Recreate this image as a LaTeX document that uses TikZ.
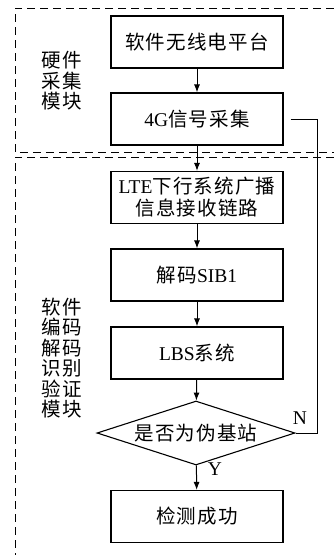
\documentclass[tikz,border=0pt]{standalone}
\usepackage{fontspec}
\setmainfont{Liberation Serif}
\newfontfamily\cjk[LetterSpace=6]{Noto Sans CJK SC}
\usetikzlibrary{arrows.meta,shapes.geometric}
\begin{document}
\begin{tikzpicture}[x=1pt,y=-1pt,
  box/.style={draw,line width=1.1pt,minimum width=172pt,minimum height=52pt,inner sep=0pt,align=center,font=\fontsize{19.5}{22}\selectfont},
  arr/.style={-{Latex[length=8pt,width=6pt]},line width=1pt},
  frame/.style={dash pattern=on 8pt off 5pt,line width=1pt},
  lbl/.style={align=center,font=\fontsize{19.5}{20.5}\selectfont},
  tag/.style={font=\fontsize{19.5}{20}\selectfont,inner sep=0pt}]
\useasboundingbox (0,0) rectangle (334,555);
% dashed module frames
\coordinate (f1a) at (334,8);
\coordinate (f1b) at (15,8);
\coordinate (f1c) at (15,152);
\coordinate (f1d) at (334,152);
\coordinate (f2a) at (334,157);
\coordinate (f2b) at (15,157);
\coordinate (f2c) at (15,555);
\draw[frame] (f1a) -- (f1b) -- (f1c) -- (f1d);
\draw[frame] (f2a) -- (f2b) -- (f2c);
% module labels
\node[lbl] (l1) at (62,81) {\cjk 硬件\\\cjk 采集\\\cjk 模块};
\node[lbl] (l2) at (62,358) {\cjk 软件\\\cjk 编码\\\cjk 解码\\\cjk 识别\\\cjk 验证\\\cjk 模块};
% boxes
\node[box] (a) at (197,42) {\cjk 软件无线电平台};
\node[box] (b) at (197,119) {4G{\cjk 信号采集}};
\node[box] (c) at (197,197.5) {LTE{\cjk 下行系统广播}\\{\cjk 信息接收链路}};
\node[box] (d) at (197,275) {{\cjk 解码}SIB1};
\node[box] (e) at (197,353) {LBS{\cjk 系统}};
\node[draw,line width=1.1pt,shape=diamond,aspect=3.1,minimum width=198pt,minimum height=64pt,inner sep=0pt,font=\fontsize{19.5}{22}\selectfont] (q) at (196,433) {\cjk 是否为伪基站};
\node[box] (g) at (197,516.5) {\cjk 检测成功};
% connectors
\draw[arr] (a) -- (b);
\draw[arr] (b) -- (c);
\draw[arr] (c) -- (d);
\draw[arr] (d) -- (e);
\draw[arr] (e) -- (q);
\draw[arr] (q) -- (g);
\coordinate (bx) at ([xshift=7pt]b.east);
\coordinate (rr) at (317,119);
\draw[line width=1pt] (bx) -- (rr) |- (q.east);
\node[tag] (n) at (300,418) {N};
\node[tag] (y) at (215,469) {Y};
\end{tikzpicture}
\end{document}
